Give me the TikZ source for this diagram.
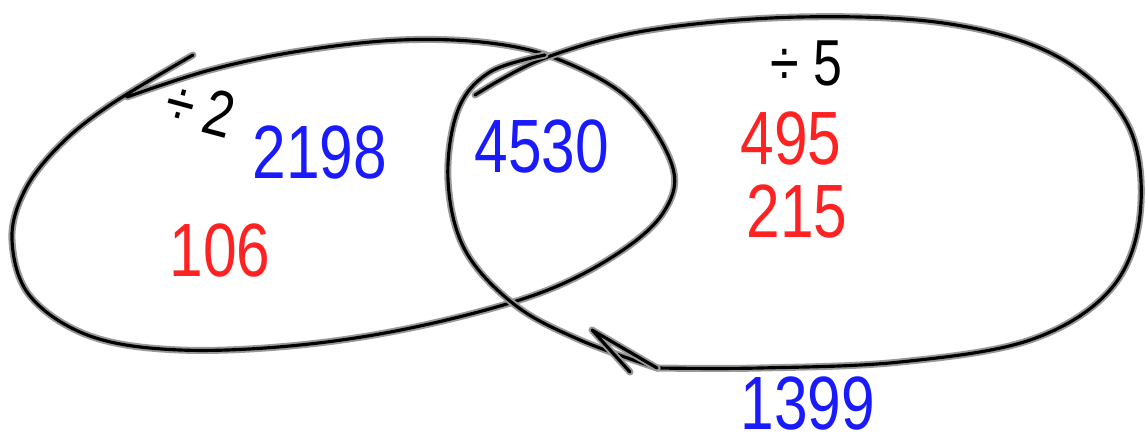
\documentclass[tikz,border=0pt]{standalone}
\usepackage{fontspec}
\setmainfont{Liberation Sans}
\newfontfamily\handfont[FakeStretch=0.8]{Liberation Sans}
\usepackage{xcolor}
\definecolor{vennblue}{HTML}{1A1AFF}
\definecolor{vennred}{HTML}{FF2222}
\usepackage{tikz}
\tikzset{
  vennpen/.style={draw=black,line width=1.8pt,line cap=round,line join=round,preaction={draw=black!40,line width=4pt,line cap=round,line join=round}},
  vennnum/.style={inner sep=0pt,font=\handfont\fontsize{43}{43}\selectfont},
  vennbluenum/.style={vennnum,text=vennblue},
  vennrednum/.style={vennnum,text=vennred},
  venndiv/.style={inner sep=0pt,font=\handfont\fontsize{37}{37}\selectfont},
}
\begin{document}
\begin{tikzpicture}[x=0.02cm,y=-0.02cm]
\useasboundingbox (0,0) rectangle (1145,443);
\draw[vennpen] plot[smooth,tension=0.6] coordinates {(127,97) (210,70) (300,51) (400,40) (490,43) (560,60) (630,100) (672,165) (665,210) (620,252) (540,293) (420,326) (300,345) (180,350) (90,336) (30,296) (12,240) (25,190) (60,145) (110,105) (193,55)};
\draw[vennpen] plot[smooth,tension=0.6] coordinates {(475,95) (545,58) (650,30) (800,17) (950,24) (1060,58) (1128,125) (1140,215) (1110,290) (1030,340) (900,362) (760,368) (657,368)};
\draw[vennpen] plot[smooth,tension=0.6] coordinates {(545,55) (490,72) (458,110) (448,180) (465,250) (515,305) (580,340) (657,368)};
\draw[vennpen] (657,368) -- (592,330) -- (630,372);
\node[venndiv,rotate=-15] (d2) at (200,108) {÷\,2};
\node[venndiv] (d5) at (806,63) {÷ 5};
\node[vennbluenum] (a) at (320,152) {2198};
\node[vennrednum] (b) at (220,250) {106};
\node[vennbluenum] (c) at (542,146) {4530};
\node[vennrednum] (e) at (791,138) {495};
\node[vennrednum] (f) at (797,211) {215};
\node[vennbluenum] (g) at (808,403) {1399};
\end{tikzpicture}
\end{document}
